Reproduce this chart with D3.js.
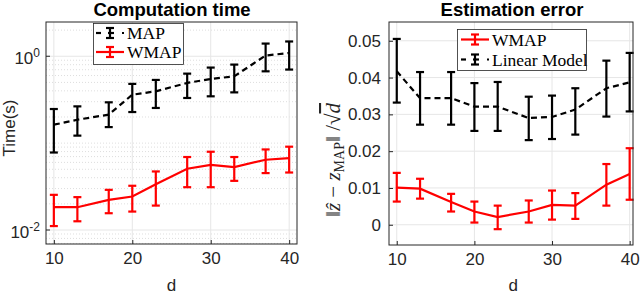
<!DOCTYPE html>
<html>
<head>
<meta charset="utf-8">
<script src="https://cdn.jsdelivr.net/npm/d3@7"></script>
<style>
  body { margin: 0; background: #fff; }
  text { font-family: "Liberation Sans", Arial, sans-serif; fill: #262626; }
  .serif { font-family: "Liberation Serif", "DejaVu Serif", serif; }
</style>
</head>
<body>
<script>
// data
const dims = [10, 13, 17, 20, 23, 27, 30, 33, 37, 40];

// computation time (s)
const mapTime    = [0.163, 0.186, 0.213, 0.361, 0.395, 0.493, 0.548, 0.588, 1.02, 1.09];
const mapTimeLo  = [0.078, 0.122, 0.153, 0.228, 0.254, 0.331, 0.346, 0.384, 0.671, 0.703];
const mapTimeHi  = [0.247, 0.265, 0.295, 0.481, 0.534, 0.631, 0.741, 0.802, 1.40, 1.48];
const wmapTime   = [0.0183, 0.0183, 0.0222, 0.0243, 0.0337, 0.0507, 0.0563, 0.053, 0.0644, 0.0673];
const wmapTimeLo = [0.0111, 0.0126, 0.0156, 0.0163, 0.0191, 0.0311, 0.0311, 0.0368, 0.0452, 0.0459];
const wmapTimeHi = [0.0254, 0.0239, 0.029, 0.0323, 0.0472, 0.0692, 0.0796, 0.0692, 0.0846, 0.091];

// estimation error
const wmapErr   = [0.0101, 0.0098, 0.0062, 0.0036, 0.0021, 0.0036, 0.0054, 0.0052, 0.0109, 0.0138];
const wmapErrLo = [0.0063, 0.0071, 0.0036, 0.0006, -0.0012, 0.0006, 0.0014, 0.0016, 0.0052, 0.0068];
const wmapErrHi = [0.0141, 0.0125, 0.0084, 0.0063, 0.0052, 0.0066, 0.0093, 0.0086, 0.0165, 0.0208];
const linErr    = [0.0417, 0.0344, 0.0344, 0.0321, 0.0321, 0.029, 0.0293, 0.0313, 0.0371, 0.0387];
const linErrLo  = [0.0332, 0.0272, 0.0272, 0.0255, 0.0255, 0.023, 0.0233, 0.0245, 0.0294, 0.0308];
const linErrHi  = [0.0505, 0.0415, 0.0415, 0.0385, 0.0388, 0.0348, 0.0351, 0.0371, 0.0446, 0.0467];

const xTicks = [10, 20, 30, 40];
const errTicks = [0, 0.01, 0.02, 0.03, 0.04, 0.05];

const W = 640, H = 296;
const svg = d3.select("body").append("svg")
    .attr("width", W).attr("height", H);

const fs = 17;

function series(vals, lo, hi) {
    return dims.map((d, i) => ({x: d, y: vals[i], lo: lo[i], hi: hi[i]}));
}

function drawSeries(g, x, y, data, color, dashed) {
    const line = d3.line().x(d => x(d.x)).y(d => y(d.y));
    g.append("path")
        .attr("d", line(data))
        .attr("fill", "none")
        .attr("stroke", color)
        .attr("stroke-width", 2.2)
        .attr("stroke-dasharray", dashed ? "6,4" : null);
    const eb = g.append("g").attr("stroke", color).attr("stroke-width", 2.2);
    data.forEach(d => {
        const cx = x(d.x);
        eb.append("line").attr("x1", cx).attr("x2", cx).attr("y1", y(d.lo)).attr("y2", y(d.hi));
        eb.append("line").attr("x1", cx - 4).attr("x2", cx + 4).attr("y1", y(d.lo)).attr("y2", y(d.lo));
        eb.append("line").attr("x1", cx - 4).attr("x2", cx + 4).attr("y1", y(d.hi)).attr("y2", y(d.hi));
    });
}

function legendSample(g, x0, y0, color, dashed) {
    const s = g.append("g").attr("stroke", color).attr("stroke-width", 2.2);
    if (dashed) {
        s.append("line").attr("x1", x0).attr("x2", x0 + 5).attr("y1", y0).attr("y2", y0);
        s.append("line").attr("x1", x0 + 12).attr("x2", x0 + 18).attr("y1", y0).attr("y2", y0);
        s.append("line").attr("x1", x0 + 26).attr("x2", x0 + 28).attr("y1", y0).attr("y2", y0);
    } else {
        s.append("line").attr("x1", x0).attr("x2", x0 + 28).attr("y1", y0).attr("y2", y0);
    }
    const cx = x0 + 14;
    s.append("line").attr("x1", cx).attr("x2", cx).attr("y1", y0 - 5).attr("y2", y0 + 5);
    s.append("line").attr("x1", cx - 4).attr("x2", cx + 4).attr("y1", y0 - 5).attr("y2", y0 - 5);
    s.append("line").attr("x1", cx - 4).attr("x2", cx + 4).attr("y1", y0 + 5).attr("y2", y0 + 5);
}

function frame(g, x, y) {
    const [x0, x1] = x.range(), [y1, y0] = y.range();
    g.append("rect")
        .attr("x", x0).attr("y", y0)
        .attr("width", x1 - x0).attr("height", y1 - y0)
        .attr("fill", "none").attr("stroke", "#262626").attr("stroke-width", 1);
}

// ---------- left: computation time ----------
const xL = d3.scaleLinear().domain([9, 41]).range([46, 297]);
const yL = d3.scaleLog().domain([0.0069, 2.48]).range([244, 22]);
const gL = svg.append("g");

// minor grid (log)
const minorL = [];
[0.001, 0.01, 0.1, 1].forEach(p => d3.range(1, 10).forEach(k => {
    const v = p * k;
    if (v > yL.domain()[0] && v < yL.domain()[1] && v !== 0.01 && v !== 1) minorL.push(v);
}));
gL.append("g").selectAll("line").data(minorL).join("line")
    .attr("x1", 46).attr("x2", 297)
    .attr("y1", d => yL(d)).attr("y2", d => yL(d))
    .attr("stroke", "#d0d0d0").attr("stroke-width", 0.7).attr("stroke-dasharray", "1,2");
gL.append("g").selectAll("line").data([0.01, 1]).join("line")
    .attr("x1", 46).attr("x2", 297)
    .attr("y1", d => yL(d)).attr("y2", d => yL(d))
    .attr("stroke", "#e6e6e6");
gL.append("g").selectAll("line").data(xTicks).join("line")
    .attr("x1", d => xL(d)).attr("x2", d => xL(d))
    .attr("y1", 22).attr("y2", 244)
    .attr("stroke", "#e6e6e6");

// x axis
gL.append("g")
    .attr("transform", "translate(0,244)")
    .call(d3.axisBottom(xL).tickValues(xTicks).tickSize(-4).tickPadding(8))
    .call(a => a.select(".domain").remove())
    .call(a => a.selectAll("text").attr("font-size", fs).attr("fill", "#262626"))
    .call(a => a.selectAll("line").attr("stroke", "#262626"));

// y axis labels 10^0, 10^-2
[[1, "0"], [0.01, "-2"]].forEach(([v, e]) => {
    const t = gL.append("text").attr("x", 40).attr("y", yL(v) + 8)
        .attr("text-anchor", "end").attr("font-size", fs);
    t.append("tspan").text("10");
    t.append("tspan").attr("dy", -7).attr("font-size", 12).text(e);
    gL.append("line").attr("x1", 46).attr("x2", 50).attr("y1", yL(v)).attr("y2", yL(v)).attr("stroke", "#262626");
});

drawSeries(gL, xL, yL, series(mapTime, mapTimeLo, mapTimeHi), "#000", true);
drawSeries(gL, xL, yL, series(wmapTime, wmapTimeLo, wmapTimeHi), "#ff0000", false);
frame(gL, xL, yL);

svg.append("text").attr("x", 172).attr("y", 16)
    .attr("text-anchor", "middle").attr("font-size", 18.5).attr("font-weight", "bold")
    .style("fill", "#000").text("Computation time");
svg.append("text").attr("transform", "translate(15,128) rotate(-90)")
    .attr("text-anchor", "middle").attr("font-size", fs).text("Time(s)");
svg.append("text").attr("x", xL(25)).attr("y", 291)
    .attr("text-anchor", "middle").attr("font-size", fs).text("d");

// legend left
const lgL = gL.append("g");
lgL.append("rect").attr("x", 93.5).attr("y", 23.5).attr("width", 90).attr("height", 41)
    .attr("fill", "#fff").attr("stroke", "#262626").attr("stroke-width", 0.8);
legendSample(lgL, 96, 33, "#000", true);
legendSample(lgL, 96, 52, "#ff0000", false);
lgL.append("text").attr("class", "serif").attr("x", 127).attr("y", 39).attr("font-size", 17.5).style("fill", "#000").text("MAP");
lgL.append("text").attr("class", "serif").attr("x", 127).attr("y", 58).attr("font-size", 17.5).style("fill", "#000").text("WMAP");

// ---------- right: estimation error ----------
const xR = d3.scaleLinear().domain([9, 40.43]).range([389, 633]);
const yR = d3.scaleLinear().domain([-0.0055, 0.0551]).range([245, 22]);
const gR = svg.append("g");

gR.append("g").selectAll("line").data(errTicks).join("line")
    .attr("x1", 389).attr("x2", 633)
    .attr("y1", d => yR(d)).attr("y2", d => yR(d))
    .attr("stroke", "#e6e6e6");
gR.append("g").selectAll("line").data(xTicks).join("line")
    .attr("x1", d => xR(d)).attr("x2", d => xR(d))
    .attr("y1", 22).attr("y2", 245)
    .attr("stroke", "#e6e6e6");

gR.append("g")
    .attr("transform", "translate(0,245)")
    .call(d3.axisBottom(xR).tickValues(xTicks).tickSize(-4).tickPadding(8))
    .call(a => a.select(".domain").remove())
    .call(a => a.selectAll("text").attr("font-size", fs).attr("fill", "#262626"))
    .call(a => a.selectAll("line").attr("stroke", "#262626"));
gR.append("g")
    .attr("transform", "translate(389,0)")
    .call(d3.axisLeft(yR).tickValues(errTicks).tickFormat(d => d === 0 ? "0" : d3.format(".2f")(d)).tickSize(-4).tickPadding(8))
    .call(a => a.select(".domain").remove())
    .call(a => a.selectAll("text").attr("font-size", fs).attr("fill", "#262626"))
    .call(a => a.selectAll("line").attr("stroke", "#262626"));

drawSeries(gR, xR, yR, series(wmapErr, wmapErrLo, wmapErrHi), "#ff0000", false);
drawSeries(gR, xR, yR, series(linErr, linErrLo, linErrHi), "#000", true);
frame(gR, xR, yR);

svg.append("text").attr("x", 512).attr("y", 16)
    .attr("text-anchor", "middle").attr("font-size", 18.5).attr("font-weight", "bold")
    .style("fill", "#000").text("Estimation error");
svg.append("text").attr("x", xR(25)).attr("y", 291)
    .attr("text-anchor", "middle").attr("font-size", fs).text("d");

// y label: ||z^ - z_MAP|| / sqrt(d)
const yl = svg.append("text").attr("class", "serif")
    .attr("transform", "translate(340,160) rotate(-90)")
    .attr("text-anchor", "middle").attr("font-size", 21);
yl.append("tspan").text("\u2016");
yl.append("tspan").attr("font-style", "italic").text("\u1E91");
yl.append("tspan").text(" \u2212 ");
yl.append("tspan").attr("font-style", "italic").text("z");
yl.append("tspan").attr("dy", 4).attr("font-size", 14).text("MAP");
yl.append("tspan").attr("dy", -4).text("\u2016 /\u221A");
yl.append("tspan").attr("font-style", "italic").style("text-decoration", "overline").text("d");

// legend right
const lgR = gR.append("g");
lgR.append("rect").attr("x", 457.5).attr("y", 29.5).attr("width", 129).attr("height", 41)
    .attr("fill", "#fff").attr("stroke", "#262626").attr("stroke-width", 0.8);
legendSample(lgR, 461, 39.5, "#ff0000", false);
legendSample(lgR, 461, 59.5, "#000", true);
lgR.append("text").attr("class", "serif").attr("x", 492).attr("y", 45.5).attr("font-size", 17.5).style("fill", "#000").text("WMAP");
lgR.append("text").attr("class", "serif").attr("x", 492).attr("y", 65.5).attr("font-size", 17.5).style("fill", "#000").text("Linear Model");
</script>
</body>
</html>
